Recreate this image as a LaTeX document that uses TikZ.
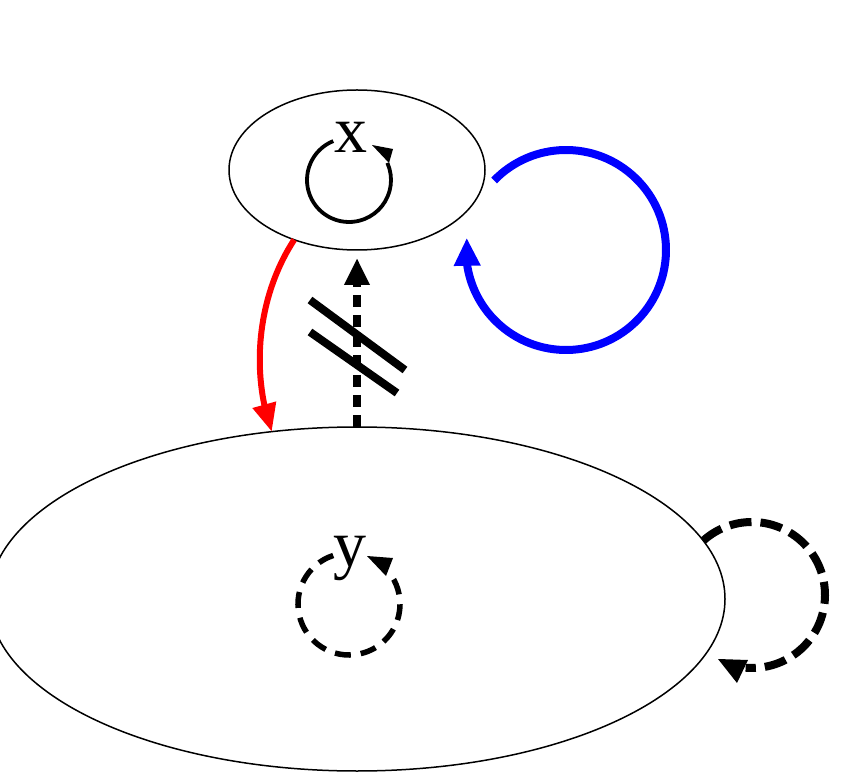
\documentclass[tikz,border=0pt]{standalone}
\usepackage{fontspec}
\setmainfont{Liberation Serif}
\usetikzlibrary{shapes.geometric,arrows.meta,bending}
\tikzset{
  region/.style={draw, ellipse, line width=1.5pt, inner sep=0pt, outer sep=0pt},
  varlabel/.style={inner sep=0pt, anchor=base, font=\fontsize{66}{66}\selectfont},
  headfill/.style={fill=black, draw=none}
}
\begin{document}
\begin{tikzpicture}[x=1pt, y=-1pt]
\path[use as bounding box] (0,0) rectangle (841,775);

% the two regions
\node[region, minimum width=256pt, minimum height=160pt] (X) at (357,170) {};
\node[region, minimum width=736pt, minimum height=344pt] (Y) at (357,599) {};

% labels
\node[varlabel] (xl) at (351,153) {x};
\node[varlabel] (yl) at (350,566) {y};

% loop inside x (solid)
\coordinate (cx) at (349,180);
\draw[line width=3.8pt] (cx) ++(-112:42) arc[start angle=-112, end angle=-384, radius=42];
\fill[headfill] (372,145) -- (393,149) -- (389,163) -- cycle;

% loop inside y (dashed)
\coordinate (cy) at (349,604);
\draw[line width=5.5pt, dash pattern=on 16pt off 10pt] (cy) ++(-108:51) arc[start angle=-108, end angle=-394, radius=51];
\fill[headfill] (367,556) -- (393,558) -- (386,576) -- cycle;

% dashed self loop on y
\coordinate (cr) at (752,595);
\draw[line width=8pt, dash pattern=on 22pt off 9pt] (cr) ++(-132:73) arc[start angle=-132, end angle=95, radius=73];
\fill[headfill] (718,659) -- (748,660) -- (737,683) -- cycle;

% blue self loop on x
\coordinate (cb) at (566,250);
\draw[blue, line width=8pt, -{Triangle[length=28pt,width=25pt,flex]}] (cb) ++(-136:100) arc[start angle=-136, end angle=187, radius=100];

% red arrow from x to y
\draw[red, line width=6pt, -{Triangle[length=28pt,width=23pt]}] (X.228) .. controls (258,295) and (250,370) .. (Y.117);

% dashed arrow from y to x, crossed out
\draw[line width=8pt, dash pattern=on 12pt off 8pt, -{Triangle[length=27pt,width=24pt]}, shorten >=8pt] (Y.north) -- (X.south);
\draw[line width=8pt] (310,300) -- (405,370);
\draw[line width=8pt] (310,332) -- (397,393);
\end{tikzpicture}
\end{document}
